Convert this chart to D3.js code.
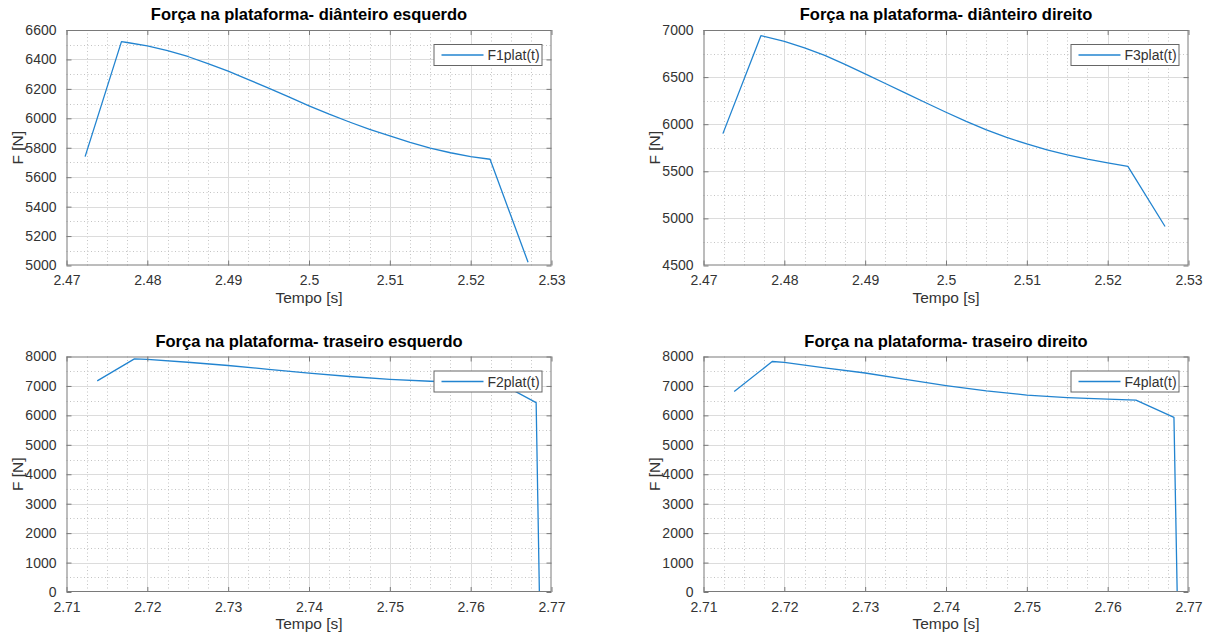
<!DOCTYPE html>
<html>
<head>
<meta charset="utf-8">
<script src="https://cdn.jsdelivr.net/npm/d3@7"></script>
<style>
  html, body { margin: 0; padding: 0; background: #fff; }
  svg { display: block; }
  text { font-family: "Liberation Sans", Arial, Helvetica, sans-serif; }
</style>
</head>
<body>
<svg id="fig" width="1212" height="636"></svg>
<script>
// ---- Force on the platform, four wheels ----

// front left
const f1Time  = [2.4723, 2.4768, 2.4775, 2.48, 2.4825, 2.485, 2.4875, 2.49, 2.4925, 2.495, 2.4975, 2.50,
                 2.5025, 2.505, 2.5075, 2.51, 2.5125, 2.515, 2.5175, 2.52, 2.5224, 2.5271];
const f1Force = [5740, 6521, 6515, 6492, 6460, 6420, 6372, 6320, 6263, 6205, 6145, 6085,
                 6028, 5975, 5925, 5880, 5836, 5798, 5766, 5740, 5722, 5022];

// front right
const f3Time  = [2.4724, 2.4771, 2.48, 2.4825, 2.485, 2.4875, 2.49, 2.4925, 2.495, 2.4975, 2.50,
                 2.5025, 2.505, 2.5075, 2.51, 2.5125, 2.515, 2.5175, 2.52, 2.5225, 2.5271];
const f3Force = [5900, 6940, 6878, 6810, 6730, 6635, 6535, 6432, 6330, 6228, 6127,
                 6030, 5940, 5860, 5790, 5728, 5675, 5630, 5590, 5552, 4914];

// rear left
const f2Time  = [2.7138, 2.7184, 2.72, 2.725, 2.73, 2.735, 2.74, 2.745, 2.75, 2.755, 2.76, 2.7636, 2.7681, 2.7685];
const f2Force = [7170, 7921, 7905, 7805, 7695, 7565, 7435, 7320, 7225, 7160, 7120, 7100, 6435, 0];

// rear right
const f4Time  = [2.7138, 2.7185, 2.72, 2.725, 2.73, 2.735, 2.74, 2.745, 2.75, 2.755, 2.76, 2.7635, 2.7682, 2.7686];
const f4Force = [6810, 7830, 7800, 7615, 7440, 7220, 7010, 6830, 6690, 6605, 6550, 6520, 5930, 0];

// axis ticks
const frontTimeTicks  = [2.47, 2.48, 2.49, 2.50, 2.51, 2.52, 2.53];
const rearTimeTicks   = [2.71, 2.72, 2.73, 2.74, 2.75, 2.76, 2.77];
const f1ForceTicks    = [5000, 5200, 5400, 5600, 5800, 6000, 6200, 6400, 6600];
const f3ForceTicks    = [4500, 5000, 5500, 6000, 6500, 7000];
const rearForceTicks  = [0, 1000, 2000, 3000, 4000, 5000, 6000, 7000, 8000];

const titles  = ["Força na plataforma- diânteiro esquerdo", "Força na plataforma- diânteiro direito",
                 "Força na plataforma- traseiro esquerdo",  "Força na plataforma- traseiro direito"];
const legends = ["F1plat(t)", "F3plat(t)", "F2plat(t)", "F4plat(t)"];
const xLabel = "Tempo [s]";
const yLabel = "F [N]";

const LINE = "#2284d0";
const AXIS = "#7a7a7a";
const TEXT = "#333333";

const svg = d3.select("#fig");
const fmt = v => d3.format(".3~f")(v);

function panel(cfg) {
  const { left, top, width, height, times, forces, xTicks, yTicks, xMinorStep, yMinorStep, title, legend } = cfg;
  const xDom = [xTicks[0], xTicks[xTicks.length - 1]];
  const yDom = [yTicks[0], yTicks[yTicks.length - 1]];
  const x = d3.scaleLinear().domain(xDom).range([left, left + width]);
  const y = d3.scaleLinear().domain(yDom).range([top + height, top]);
  const g = svg.append("g");

  // minor grid (dotted)
  const xMinor = d3.range(xDom[0], xDom[1] + 1e-9, xMinorStep).filter(v => !xTicks.some(t => Math.abs(t - v) < 1e-7));
  const yMinor = d3.range(yDom[0], yDom[1] + 1e-9, yMinorStep).filter(v => !yTicks.some(t => Math.abs(t - v) < 1e-7));
  g.append("g").selectAll("line").data(xMinor).join("line")
    .attr("x1", d => Math.round(x(d)) + 0.5).attr("x2", d => Math.round(x(d)) + 0.5)
    .attr("y1", top).attr("y2", top + height)
    .attr("stroke", "#c4c4c4").attr("stroke-dasharray", "1,2.5");
  g.append("g").selectAll("line").data(yMinor).join("line")
    .attr("y1", d => Math.round(y(d)) + 0.5).attr("y2", d => Math.round(y(d)) + 0.5)
    .attr("x1", left).attr("x2", left + width)
    .attr("stroke", "#c4c4c4").attr("stroke-dasharray", "1,2.5");

  // major grid
  g.append("g").selectAll("line").data(xTicks.slice(1, -1)).join("line")
    .attr("x1", d => Math.round(x(d)) + 0.5).attr("x2", d => Math.round(x(d)) + 0.5)
    .attr("y1", top).attr("y2", top + height).attr("stroke", "#dcdcdc");
  g.append("g").selectAll("line").data(yTicks.slice(1, -1)).join("line")
    .attr("y1", d => Math.round(y(d)) + 0.5).attr("y2", d => Math.round(y(d)) + 0.5)
    .attr("x1", left).attr("x2", left + width).attr("stroke", "#dcdcdc");

  // data line
  const pts = times.map((t, i) => [t, forces[i]]);
  g.append("path").datum(pts)
    .attr("d", d3.line().x(d => x(d[0])).y(d => y(d[1])))
    .attr("fill", "none").attr("stroke", LINE).attr("stroke-width", 1.3)
    .attr("stroke-linejoin", "round");

  // axes: ticks pointing inward on all four sides
  const tickLen = 5;
  const axB = d3.axisBottom(x).tickValues(xTicks).tickFormat(fmt).tickSizeInner(-tickLen).tickSizeOuter(0).tickPadding(10);
  const axL = d3.axisLeft(y).tickValues(yTicks).tickFormat(d3.format("d")).tickSizeInner(-tickLen).tickSizeOuter(0).tickPadding(10);
  const axT = d3.axisTop(x).tickValues(xTicks).tickFormat("").tickSizeInner(-tickLen).tickSizeOuter(0);
  const axR = d3.axisRight(y).tickValues(yTicks).tickFormat("").tickSizeInner(-tickLen).tickSizeOuter(0);

  const styleAxis = sel => {
    sel.select(".domain").remove();
    sel.selectAll(".tick line").attr("stroke", AXIS);
    sel.selectAll(".tick text").attr("fill", TEXT).style("font-size", "14px")
      .style("font-family", "'Liberation Sans', Arial, sans-serif");
  };
  g.append("g").attr("transform", `translate(0,${top + height})`).call(axB).call(styleAxis);
  g.append("g").attr("transform", `translate(${left},0)`).call(axL).call(styleAxis);
  g.append("g").attr("transform", `translate(0,${top})`).call(axT).call(styleAxis);
  g.append("g").attr("transform", `translate(${left + width},0)`).call(axR).call(styleAxis);

  // box
  g.append("rect").attr("x", left + 0.5).attr("y", top + 0.5)
    .attr("width", width - 1).attr("height", height - 1)
    .attr("fill", "none").attr("stroke", AXIS);

  // title and axis labels
  g.append("text").attr("x", left + width / 2).attr("y", top - 10)
    .attr("text-anchor", "middle").attr("font-weight", "bold").attr("font-size", 16.5)
    .attr("fill", "#000").text(title);
  g.append("text").attr("x", left + width / 2).attr("y", top + height + 37)
    .attr("text-anchor", "middle").attr("font-size", 15.5).attr("fill", TEXT).text(xLabel);
  g.append("text")
    .attr("transform", `translate(${left - 44},${top + height / 2}) rotate(-90)`)
    .attr("text-anchor", "middle").attr("font-size", 15.5).attr("fill", TEXT).text(yLabel);

  // legend
  const lw = 108, lh = 21;
  const lx = left + width - 10 - lw, ly = top + 14;
  const lg = g.append("g");
  lg.append("rect").attr("x", lx + 0.5).attr("y", ly + 0.5).attr("width", lw).attr("height", lh)
    .attr("fill", "#fff").attr("stroke", "#666");
  lg.append("line").attr("x1", lx + 8).attr("x2", lx + 50)
    .attr("y1", ly + lh / 2 + 0.5).attr("y2", ly + lh / 2 + 0.5)
    .attr("stroke", LINE).attr("stroke-width", 1.3);
  lg.append("text").attr("x", lx + 54).attr("y", ly + lh / 2 + 5.5)
    .attr("font-size", 14).attr("fill", TEXT).text(legend);
}

const W = 485, H = 235.5;
panel({ left: 66.5,  top: 30,    width: W, height: H, times: f1Time, forces: f1Force,
        xTicks: frontTimeTicks, yTicks: f1ForceTicks, xMinorStep: 0.0025, yMinorStep: 100,
        title: titles[0], legend: legends[0] });
panel({ left: 703.5, top: 30,    width: W, height: H, times: f3Time, forces: f3Force,
        xTicks: frontTimeTicks, yTicks: f3ForceTicks, xMinorStep: 0.0025, yMinorStep: 250,
        title: titles[1], legend: legends[1] });
panel({ left: 66.5,  top: 356.5, width: W, height: H, times: f2Time, forces: f2Force,
        xTicks: rearTimeTicks, yTicks: rearForceTicks, xMinorStep: 0.0025, yMinorStep: 500,
        title: titles[2], legend: legends[2] });
panel({ left: 703.5, top: 356.5, width: W, height: H, times: f4Time, forces: f4Force,
        xTicks: rearTimeTicks, yTicks: rearForceTicks, xMinorStep: 0.0025, yMinorStep: 500,
        title: titles[3], legend: legends[3] });
</script>
</body>
</html>
